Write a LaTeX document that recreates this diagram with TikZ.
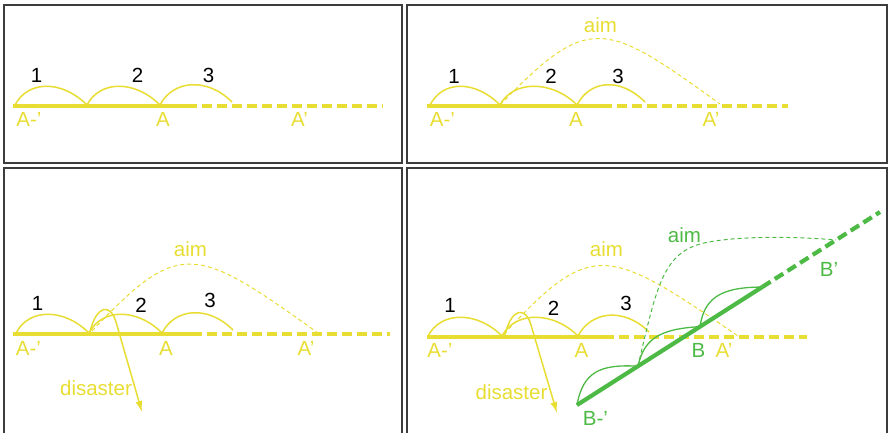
\documentclass[tikz,border=0pt]{standalone}
\usepackage{fontspec}
\setmainfont{Liberation Sans}
\usetikzlibrary{arrows.meta,calc}
\definecolor{yel}{RGB}{232,221,50}
\definecolor{grn}{RGB}{78,186,70}
\definecolor{framec}{RGB}{60,60,60}
\newcommand\hopcurve[3]{\draw[#1] (#2) .. controls +(13,-25) and +(-25,-25) .. (#3);}
\begin{document}
\begin{tikzpicture}[x=1pt,y=-1pt,
  panel/.style={draw=framec,line width=1.3pt},
  base/.style={draw=yel,line width=4.2pt},
  gbase/.style={draw=grn,line width=4.2pt},
  longdash/.style={dash pattern=on 10pt off 5pt},
  hop/.style={draw=yel,line width=1.5pt},
  ghop/.style={draw=grn,line width=1.3pt},
  aimline/.style={draw=yel,line width=1pt,dash pattern=on 4pt off 3pt},
  gaimline/.style={draw=grn,line width=1pt,dash pattern=on 4pt off 3pt},
  fall/.style={draw=yel,line width=1.5pt,-{Latex[length=11pt,width=7pt]}},
  lab/.style={font=\fontsize{20.5}{24}\selectfont,inner sep=0pt},
  ylab/.style={lab,text=yel},
  glab/.style={lab,text=grn},
  num/.style={lab,text=black},
]
\useasboundingbox (0,0) rectangle (888,433);
\clip (0,0) rectangle (888,433);

% panel frames
\draw[panel] (4,5) rectangle (402,163);
\draw[panel] (407,5) rectangle (887,163);
\draw[panel] (4,168) rectangle (402,445);
\draw[panel] (407,168) rectangle (887,445);

% ---------- panel 1 ----------
\coordinate (a1s) at (13,106); \coordinate (a1m) at (187,106); \coordinate (a1e) at (383,106);
\coordinate (a1h0) at (15,105); \coordinate (a1h1) at (87,105);
\coordinate (a1h2) at (160,105); \coordinate (a1h3) at (232,102);
\draw[base] (a1s) -- (a1m);
\draw[base,longdash] (a1m) -- (a1e);
\hopcurve{hop}{a1h0}{a1h1}
\hopcurve{hop}{a1h1}{a1h2}
\hopcurve{hop}{a1h2}{a1h3}
\node[num] (a1n1) at (36.5,75.5) {1};
\node[num] (a1n2) at (137.5,75.5) {2};
\node[num] (a1n3) at (208.5,75.5) {3};
\node[ylab] (a1l0) at (29,119.5) {A-’};
\node[ylab] (a1l1) at (163,119.5) {A};
\node[ylab] (a1l2) at (299.5,119.5) {A’};

% ---------- panel 2 ----------
\coordinate (a2s) at (427,106); \coordinate (a2m) at (602,106); \coordinate (a2e) at (788,106);
\coordinate (a2h0) at (430,105); \coordinate (a2h1) at (500,105);
\coordinate (a2h2) at (577,105); \coordinate (a2h3) at (645,102);
\coordinate (a2t) at (720,104);
\draw[base] (a2s) -- (a2m);
\draw[base,longdash] (a2m) -- (a2e);
\hopcurve{hop}{a2h0}{a2h1}
\hopcurve{hop}{a2h1}{a2h2}
\hopcurve{hop}{a2h2}{a2h3}
\draw[aimline] (a2h1) .. controls (589,13) and (604,20) .. (a2t);
\node[num] (a2n1) at (454,76.5) {1};
\node[num] (a2n2) at (551,76.5) {2};
\node[num] (a2n3) at (618,76.5) {3};
\node[ylab] (a2aim) at (600.5,25.5) {aim};
\node[ylab] (a2l0) at (442.5,119.5) {A-’};
\node[ylab] (a2l1) at (576,119.5) {A};
\node[ylab] (a2l2) at (711,119.5) {A’};

% ---------- panel 3 ----------
\coordinate (a3s) at (13,334); \coordinate (a3m) at (192,334); \coordinate (a3e) at (390,334);
\coordinate (a3h0) at (16,333); \coordinate (a3h1) at (89,333);
\coordinate (a3h2) at (162,333); \coordinate (a3h3) at (233,330);
\coordinate (a3as) at (92,331); \coordinate (a3t) at (318,333);
\coordinate (a3ls) at (90,332); \coordinate (a3lk) at (116,322); \coordinate (a3tip) at (142,412);
\draw[base] (a3s) -- (a3m);
\draw[base,longdash] (a3m) -- (a3e);
\hopcurve{hop}{a3h0}{a3h1}
\hopcurve{hop}{a3h1}{a3h2}
\hopcurve{hop}{a3h2}{a3h3}
\draw[aimline] (a3as) .. controls (180,238) and (195,245) .. (a3t);
\draw[fall] (a3ls) .. controls (96,306) and (110,302) .. (a3lk) -- (a3tip);
\node[num] (a3n1) at (37.5,303.5) {1};
\node[num] (a3n2) at (141,305.5) {2};
\node[num] (a3n3) at (210,300.5) {3};
\node[ylab] (a3aim) at (190.5,249.5) {aim};
\node[ylab] (a3l0) at (28.5,348.5) {A-’};
\node[ylab] (a3l1) at (166,348.5) {A};
\node[ylab] (a3l2) at (306,348.5) {A’};
\node[ylab] (a3dis) at (96,388) {disaster};

% ---------- panel 4 ----------
\coordinate (a4s) at (427,337); \coordinate (a4m) at (604,337); \coordinate (a4e) at (807,337);
\coordinate (a4h0) at (428,336); \coordinate (a4h1) at (502,336);
\coordinate (a4h2) at (578,336); \coordinate (a4h3) at (649,332);
\coordinate (a4as) at (504,334); \coordinate (a4t) at (738,336);
\coordinate (a4ls) at (505,335); \coordinate (a4lk) at (531,325); \coordinate (a4tip) at (557,413);
\draw[base] (a4s) -- (a4m);
\draw[base,longdash] (a4m) -- (a4e);
\hopcurve{hop}{a4h0}{a4h1}
\hopcurve{hop}{a4h1}{a4h2}
\hopcurve{hop}{a4h2}{a4h3}
\draw[aimline] (a4as) .. controls (592,239) and (607,246) .. (a4t);
\draw[fall] (a4ls) .. controls (511,309) and (525,305) .. (a4lk) -- (a4tip);
\node[num] (a4n1) at (450,305) {1};
\node[num] (a4n2) at (553.5,308) {2};
\node[num] (a4n3) at (626,303.5) {3};
\node[ylab] (a4aim) at (606.5,249.5) {aim};
\node[ylab] (a4l0) at (440,350.5) {A-’};
\node[ylab] (a4l1) at (581.5,350.5) {A};
\node[ylab] (a4l2) at (724,350.5) {A’};
\node[ylab] (a4dis) at (511.5,392.5) {disaster};

% green
\coordinate (gs) at (577,405); \coordinate (ge) at (880,212);
\coordinate (g1) at ($(gs)!0.201!(ge)$);
\coordinate (g2) at ($(gs)!0.406!(ge)$);
\coordinate (g3) at ($(gs)!0.611!(ge)$);
\coordinate (gt) at ($(gs)!0.855!(ge)$);
\coordinate (gk) at (700,244);
\draw[gbase] (gs) -- (g3);
\draw[gbase,longdash] (g3) -- (ge);
\draw[ghop] (gs) .. controls (583,372) and (600,364) .. (g1);
\draw[ghop] (g1) .. controls (644,341) and (656,329) .. (g2);
\draw[ghop] (g2) .. controls (704,300) and (718,287) .. (g3);
\draw[gaimline] (g1) .. controls (656,290) and (662,255) .. (gk) .. controls (730,236) and (790,236) .. (gt);
\node[glab] (gaim) at (684.5,235) {aim};
\node[glab] (gB) at (698.5,350.5) {B};
\node[glab] (gB1) at (829,269) {B’};
\node[glab] (gB0) at (595.5,418.5) {B-’};
\end{tikzpicture}
\end{document}
